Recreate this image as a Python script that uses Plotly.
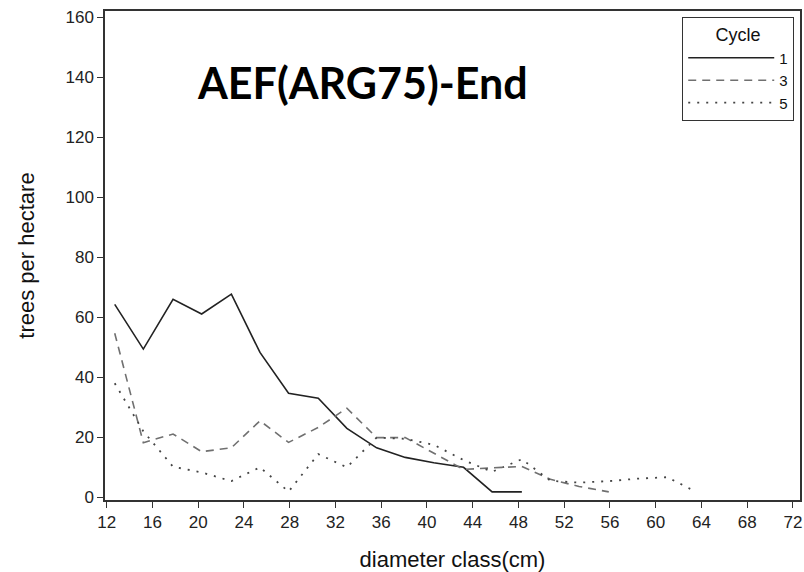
import plotly.graph_objects as go

diam1 = [12.7, 15.2, 17.8, 20.3, 22.9, 25.4, 27.9, 30.5, 33.0, 35.6, 38.1, 40.6, 43.2, 45.7, 48.3]
tph1 = [64.3, 49.4, 66.0, 61.1, 67.7, 48.3, 34.7, 33.0, 23.0, 16.5, 13.3, 11.5, 10.0, 1.8, 1.8]

diam3 = [12.7, 15.2, 17.8, 20.3, 22.9, 25.4, 27.9, 30.5, 33.0, 35.6, 38.1, 40.6, 43.2, 45.7, 48.3, 50.8, 53.3, 55.9]
tph3 = [54.7, 18.2, 21.1, 15.2, 16.5, 25.5, 18.3, 23.3, 29.7, 19.9, 19.9, 14.8, 9.3, 9.8, 10.3, 6.0, 3.6, 1.8]

diam5 = [12.7, 15.2, 17.8, 20.3, 22.9, 25.4, 27.9, 30.5, 33.0, 35.6, 38.1, 40.6, 43.2, 45.7, 48.3, 50.8, 53.3, 55.9, 58.4, 61.0, 63.5]
tph5 = [38.0, 22.0, 10.2, 8.3, 5.4, 10.0, 1.9, 14.4, 10.0, 19.9, 19.5, 17.5, 12.4, 8.5, 12.7, 5.5, 4.9, 5.4, 6.2, 6.7, 1.9]

x_ticks = list(range(12, 73, 4))
y_ticks = list(range(0, 161, 20))

fig = go.Figure()
fig.add_trace(go.Scatter(x=diam1, y=tph1, mode="lines", name="1",
                         line=dict(color="#222222", width=1.6)))
fig.add_trace(go.Scatter(x=diam3, y=tph3, mode="lines", name="3",
                         line=dict(color="#707070", width=1.6, dash="8px,6px")))
fig.add_trace(go.Scatter(x=diam5, y=tph5, mode="lines", name="5",
                         line=dict(color="#444444", width=1.8, dash="2px,7px")))

axis_common = dict(showline=True, linecolor="#333333", linewidth=1.5, mirror=True,
                   ticks="outside", ticklen=6, tickwidth=1.2, tickcolor="#333333",
                   showgrid=False, zeroline=False,
                   tickfont=dict(family="Liberation Sans, Arial", size=17, color="#222222"))

fig.update_layout(
    width=804, height=572,
    margin=dict(l=105, r=2, t=11, b=72),
    plot_bgcolor="white", paper_bgcolor="white",
    xaxis=dict(range=[11.85, 72.62], tickvals=x_ticks,
               title=dict(text="diameter class(cm)", standoff=20,
                          font=dict(family="Liberation Sans, Arial", size=22, color="#111111")),
               **axis_common),
    yaxis=dict(range=[-0.9, 162.1], tickvals=y_ticks,
               title=dict(text="trees per hectare", standoff=25,
                          font=dict(family="Liberation Sans, Arial", size=22, color="#111111")),
               **axis_common),
    legend=dict(x=0.9914, y=0.988, xanchor="right", yanchor="top",
                bordercolor="#333333", borderwidth=1.2, bgcolor="white",
                title=dict(text="Cycle", side="top center",
                           font=dict(family="Liberation Sans, Arial", size=18, color="#111111")),
                font=dict(family="Liberation Sans, Arial", size=15, color="#111111"),
                tracegroupgap=0, itemwidth=86),
    annotations=[dict(text="<b>AEF(ARG75)-End</b>", x=0.37, y=0.853, xref="paper", yref="paper",
                      xanchor="center", yanchor="middle", showarrow=False,
                      font=dict(family="Lato", size=43, color="#000000"))],
)

fig.write_html("out.html")
